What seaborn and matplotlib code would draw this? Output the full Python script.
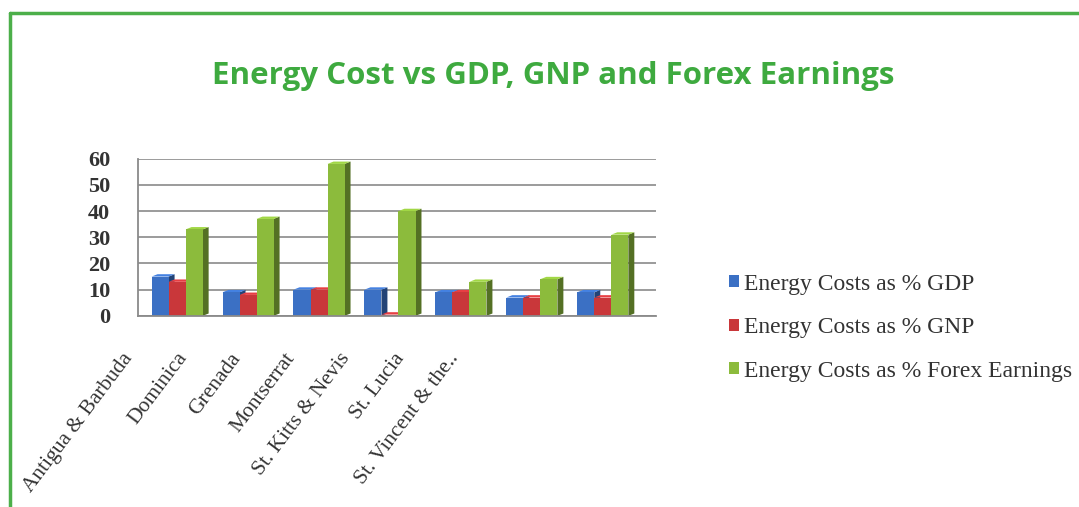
import matplotlib
matplotlib.use("Agg")
import matplotlib.pyplot as plt
import matplotlib.transforms as mtransforms
import seaborn as sns
import pandas as pd
from matplotlib.patches import Polygon
from matplotlib.lines import Line2D
from matplotlib.colors import to_rgb

countries = ["Antigua & Barbuda", "Dominica", "Grenada", "Montserrat",
             "St. Kitts & Nevis", "St. Lucia", "St. Vincent & the.."]
gdp = [15, 9, 10, 10, 9, 7, 9]
gnp = [13, 8, 10, 0.5, 9, 7, 7]
forex = [33, 37, 58, 40, 13, 14, 31]
series = ["Energy Costs as % GDP", "Energy Costs as % GNP", "Energy Costs as % Forex Earnings"]
colors = ["#3b70c4", "#c9373a", "#8cbb3c"]
yticks = [0, 10, 20, 30, 40, 50, 60]

df = pd.DataFrame({
    "country": countries * 3,
    "value": gdp + gnp + forex,
    "series": [series[0]] * 7 + [series[1]] * 7 + [series[2]] * 7,
})

sns.set_theme(style="white")
plt.rcParams["font.family"] = ["Liberation Serif", "DejaVu Serif"]

fig = plt.figure(figsize=(10.79, 5.07), dpi=100)
ax = fig.add_axes([0.128, 0.377, 0.48, 0.31])

sns.barplot(data=df, x="country", y="value", hue="series", palette=colors,
            width=0.72, ax=ax, saturation=1, edgecolor="none", legend=True)

ax.set_ylim(0, 60)
ax.set_yticks(yticks)
ax.set_yticklabels([str(t) for t in yticks], fontsize=16, fontweight="bold", color="#333333")
ax.set_xlabel("")
ax.set_ylabel("")
ax.grid(axis="y", color="#8a8a8a", linewidth=1.2)
ax.set_axisbelow(True)
for s in ["top", "right"]:
    ax.spines[s].set_visible(False)
for s in ["bottom", "left"]:
    ax.spines[s].set_color("#8a8a8a")
    ax.spines[s].set_linewidth(1.3)
ax.tick_params(axis="y", length=0, pad=20)
ax.tick_params(axis="x", length=0, pad=24)
# category labels sit on the (perspective-compressed) front plane of the 3D chart
label_pos = [-0.45 + 0.765 * i for i in range(len(countries))]
ax.set_xticks(label_pos)
ax.set_xticklabels(countries, rotation=53, ha="right", rotation_mode="anchor",
                   fontsize=15.5, color="#333333")
ax.set_xlim(-0.55, 6.75)
shift = mtransforms.ScaledTranslation(-17 / 72, 0, fig.dpi_scale_trans)
for lab in ax.get_xticklabels():
    lab.set_transform(lab.get_transform() + shift)

# pseudo 3D: darker side faces and lighter tops derived from bar geometry
for patch in list(ax.patches):
    x0, y0 = patch.get_x(), patch.get_y()
    w, h = patch.get_width(), patch.get_height()
    if w == 0:
        continue
    c = to_rgb(patch.get_facecolor())
    dx, dy = w * 0.35, 0.9
    dark = tuple(v * 0.6 for v in c)
    light = tuple(min(1, v * 1.15) for v in c)
    ax.add_patch(Polygon([(x0 + w, y0), (x0 + w + dx, y0 + dy), (x0 + w + dx, y0 + h + dy), (x0 + w, y0 + h)],
                         closed=True, facecolor=dark, edgecolor="none", zorder=patch.get_zorder() - 0.1))
    ax.add_patch(Polygon([(x0, y0 + h), (x0 + dx, y0 + h + dy), (x0 + w + dx, y0 + h + dy), (x0 + w, y0 + h)],
                         closed=True, facecolor=light, edgecolor="none", zorder=patch.get_zorder() - 0.1))

leg = ax.legend(loc="center left", bbox_to_anchor=(1.10, -0.075), frameon=False,
                fontsize=17, handlelength=0.42, handleheight=0.42, handletextpad=0.2,
                labelspacing=0.95)
for t in leg.get_texts():
    t.set_color("#333333")

fig.text(0.513, 0.85, "Energy Cost vs GDP, GNP and Forex Earnings", ha="center", va="center",
         fontsize=22.5, fontweight="bold", color="#3eaa3f", family=["Open Sans", "DejaVu Sans"])

green = "#4caf4a"
fig.add_artist(Line2D([0.0095, 1.0], [0.974, 0.974], transform=fig.transFigure, color=green, linewidth=2.5))
fig.add_artist(Line2D([0.0095, 0.0095], [0.0, 0.974], transform=fig.transFigure, color=green, linewidth=2.5))

fig.savefig("out.png", dpi=100)
